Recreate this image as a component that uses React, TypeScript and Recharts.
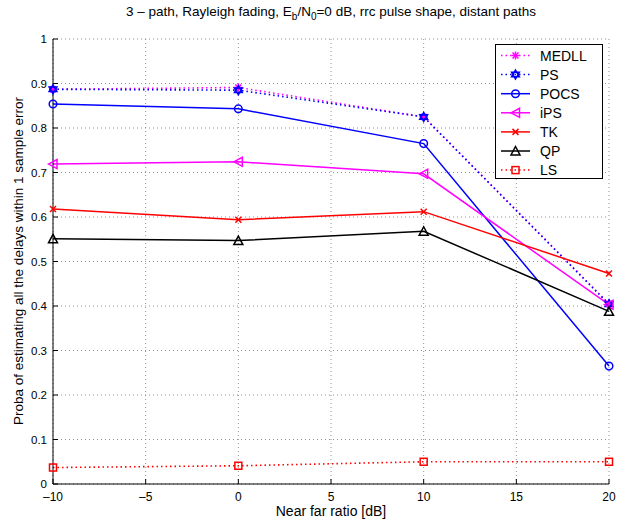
import React from "react";
import { CartesianGrid, Line, LineChart, XAxis, YAxis } from "recharts";

const nearFar = [-10, 0, 10, 20];
const medll = [0.887, 0.891, 0.825, 0.405];
const ps = [0.887, 0.885, 0.825, 0.404];
const pocs = [0.854, 0.843, 0.765, 0.265];
const ips = [0.719, 0.724, 0.697, 0.403];
const tk = [0.618, 0.594, 0.612, 0.473];
const qp = [0.551, 0.547, 0.568, 0.388];
const ls = [0.037, 0.041, 0.05, 0.05];

const xTicks = [-10, -5, 0, 5, 10, 15, 20];
const yTicks = [0, 0.1, 0.2, 0.3, 0.4, 0.5, 0.6, 0.7, 0.8, 0.9, 1];

type MarkerKind = "asterisk" | "hexagram" | "circle" | "left" | "cross" | "up" | "square";

interface Series {
  key: string;
  name: string;
  values: number[];
  color: string;
  dotted: boolean;
  marker: MarkerKind;
}

const series: Series[] = [
  { key: "medll", name: "MEDLL", values: medll, color: "#ff00ff", dotted: true, marker: "asterisk" },
  { key: "ps", name: "PS", values: ps, color: "#0000ff", dotted: true, marker: "hexagram" },
  { key: "pocs", name: "POCS", values: pocs, color: "#0000ff", dotted: false, marker: "circle" },
  { key: "ips", name: "iPS", values: ips, color: "#ff00ff", dotted: false, marker: "left" },
  { key: "tk", name: "TK", values: tk, color: "#ff0000", dotted: false, marker: "cross" },
  { key: "qp", name: "QP", values: qp, color: "#000000", dotted: false, marker: "up" },
  { key: "ls", name: "LS", values: ls, color: "#ff0000", dotted: true, marker: "square" },
];

const rows = nearFar.map((x, i) => {
  const row: Record<string, number> = { x };
  for (const s of series) row[s.key] = s.values[i];
  return row;
});

const FONT = "'Liberation Sans', Arial, Helvetica, sans-serif";

// matlab prints negatives with a long dash
const fmtX = (v: number) => String(v).replace("-", "\u2013");

function Marker({ kind, cx, cy, color }: { kind: MarkerKind; cx: number; cy: number; color: string }) {
  const sw = 1.5;
  switch (kind) {
    case "asterisk":
      return (
        <g stroke={color} strokeWidth={sw}>
          <line x1={cx - 4} y1={cy} x2={cx + 4} y2={cy} />
          <line x1={cx} y1={cy - 4} x2={cx} y2={cy + 4} />
          <line x1={cx - 3} y1={cy - 3} x2={cx + 3} y2={cy + 3} />
          <line x1={cx - 3} y1={cy + 3} x2={cx + 3} y2={cy - 3} />
        </g>
      );
    case "hexagram": {
      const r = 4.5;
      const tri = (a0: number) =>
        [0, 1, 2]
          .map((k) => {
            const a = a0 + (k * 2 * Math.PI) / 3;
            return `${cx + r * Math.cos(a)},${cy + r * Math.sin(a)}`;
          })
          .join(" ");
      return (
        <g fill="none" stroke={color} strokeWidth={sw}>
          <polygon points={tri(-Math.PI / 2)} />
          <polygon points={tri(Math.PI / 2)} />
        </g>
      );
    }
    case "circle":
      return <circle cx={cx} cy={cy} r={3.8} fill="none" stroke={color} strokeWidth={sw} />;
    case "left":
      return (
        <polygon
          points={`${cx - 4.5},${cy} ${cx + 4},${cy - 4.5} ${cx + 4},${cy + 4.5}`}
          fill="none"
          stroke={color}
          strokeWidth={sw}
        />
      );
    case "cross":
      return (
        <g stroke={color} strokeWidth={sw}>
          <line x1={cx - 3} y1={cy - 3} x2={cx + 3} y2={cy + 3} />
          <line x1={cx - 3} y1={cy + 3} x2={cx + 3} y2={cy - 3} />
        </g>
      );
    case "up":
      return (
        <polygon
          points={`${cx},${cy - 4.5} ${cx + 4.5},${cy + 4} ${cx - 4.5},${cy + 4}`}
          fill="none"
          stroke={color}
          strokeWidth={sw}
        />
      );
    case "square":
      return (
        <rect x={cx - 3.5} y={cy - 3.5} width={7} height={7} fill="none" stroke={color} strokeWidth={sw} />
      );
  }
  return null;
}

function LegendBox() {
  return (
    <svg width={108} height={135} style={{ display: "block", fontFamily: FONT }}>
      <rect x={0.5} y={0.5} width={107} height={134} fill="#fff" stroke="#000" strokeWidth={1} />
      {series.map((s, i) => {
        const y = 11.5 + i * 19.1;
        return (
          <g key={s.key}>
            <line
              x1={6}
              y1={y}
              x2={35}
              y2={y}
              stroke={s.color}
              strokeWidth={1.5}
              strokeDasharray={s.dotted ? "1.5 3" : undefined}
            />
            <Marker kind={s.marker} cx={20.5} cy={y} color={s.color} />
            <text x={45} y={y + 5} fontSize={14} fill="#000">
              {s.name}
            </text>
          </g>
        );
      })}
    </svg>
  );
}

export default function App() {
  return (
    <div style={{ position: "absolute", left: 0, top: 0, width: 624, height: 523, background: "#fff", fontFamily: FONT }}>
      <LineChart width={624} height={523} data={rows} margin={{ top: 39, right: 15, bottom: 0, left: 0 }}>
        <CartesianGrid stroke="#777" strokeDasharray="1 3" strokeWidth={0.8} />
        <XAxis
          dataKey="x"
          type="number"
          domain={[-10, 20]}
          ticks={xTicks}
          tickFormatter={fmtX}
          height={39}
          stroke="#000"
          tickSize={-5}
          tickMargin={13}
          tick={{ fontSize: 12, fill: "#000", fontFamily: FONT }}
        />
        <XAxis
          xAxisId="top"
          orientation="top"
          type="number"
          domain={[-10, 20]}
          ticks={xTicks}
          height={0}
          stroke="#000"
          tickSize={-5}
          tick={false}
        />
        <YAxis
          type="number"
          domain={[0, 1]}
          ticks={yTicks}
          width={53}
          stroke="#000"
          tickSize={-5}
          tickMargin={11}
          tick={{ fontSize: 11.5, fill: "#000", fontFamily: FONT }}
        />
        <YAxis
          yAxisId="right"
          orientation="right"
          type="number"
          domain={[0, 1]}
          ticks={yTicks}
          width={0}
          stroke="#000"
          tickSize={-5}
          tick={false}
        />
        {series.map((s) => (
          <Line
            key={s.key}
            dataKey={s.key}
            name={s.name}
            stroke={s.color}
            strokeWidth={s.dotted ? 1.6 : 1.5}
            strokeDasharray={s.dotted ? "1.5 3" : undefined}
            isAnimationActive={false}
            dot={(p: any) => <Marker key={`${s.key}-${p.index}`} kind={s.marker} cx={p.cx} cy={p.cy} color={s.color} />}
            activeDot={false}
          />
        ))}
      </LineChart>
      <div style={{ position: "absolute", left: 495, top: 44 }}>
        <LegendBox />
      </div>
      <div
        style={{
          position: "absolute",
          left: 31,
          width: 600,
          top: 4,
          textAlign: "center",
          fontSize: 13.5,
          color: "#000",
          whiteSpace: "nowrap",
        }}
      >
        3 – path, Rayleigh fading, E<sub style={{ fontSize: 10 }}>b</sub>/N<sub style={{ fontSize: 10 }}>0</sub>=0 dB, rrc
        pulse shape, distant paths
      </div>
      <div
        style={{
          position: "absolute",
          left: 131,
          width: 400,
          top: 503,
          textAlign: "center",
          fontSize: 14,
          color: "#000",
        }}
      >
        Near far ratio [dB]
      </div>
      <div
        style={{
          position: "absolute",
          left: 20 - 250,
          top: 261 - 9,
          width: 500,
          height: 18,
          textAlign: "center",
          fontSize: 13.5,
          color: "#000",
          transform: "rotate(-90deg)",
          whiteSpace: "nowrap",
        }}
      >
        Proba of estimating all the delays within 1 sample error
      </div>
    </div>
  );
}
